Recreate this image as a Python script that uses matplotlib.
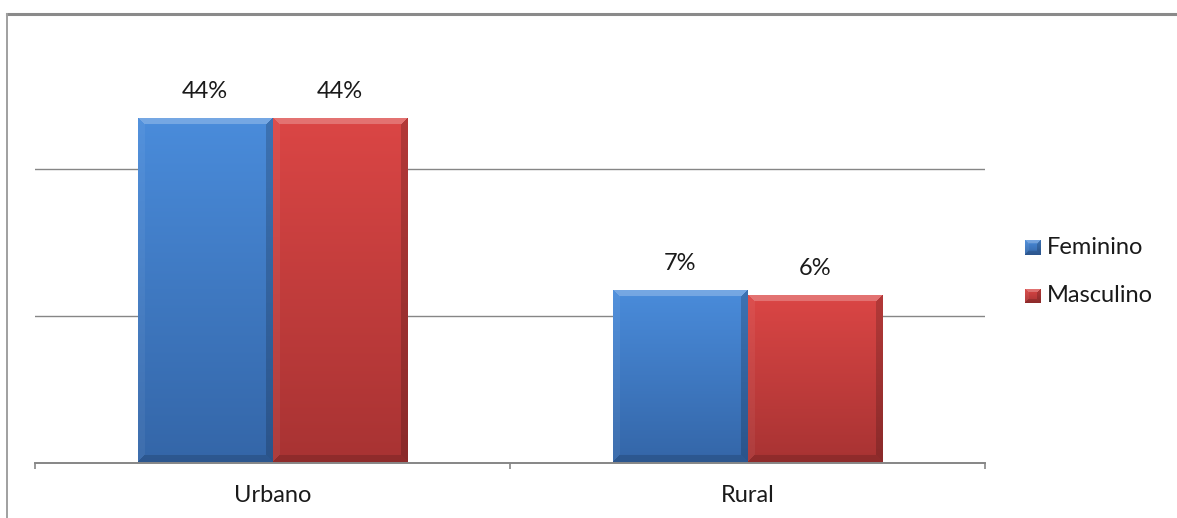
import numpy as np
import matplotlib
matplotlib.use("Agg")
import matplotlib.pyplot as plt
from matplotlib.lines import Line2D

# ---- data -------------------------------------------------------------
categories = ["Urbano", "Rural"]
series_names = ["Feminino", "Masculino"]
feminino = [44, 7]
masculino = [44, 6]

# value axis (labels hidden): floor, ceiling and gridline spacing
AXIS_FLOOR = -30.0
AXIS_TOP = 64.7
GRID_STEP = 31.55

# ---- style ------------------------------------------------------------
FONT = ["Lato", "DejaVu Sans"]
plt.rcParams["font.family"] = FONT
FS = 17
TEXT_COLOR = "#1a1a1a"
GRAY = "#868686"
SERIES_COLORS = {
    "Feminino": ("#4A8CDB", "#3466A8"),
    "Masculino": ("#DB4645", "#A83333"),
}

W, H, DPI = 1177, 518, 100
fig = plt.figure(figsize=(W / DPI, H / DPI), dpi=DPI)
fig.patch.set_facecolor("white")

ax_left, ax_right, ax_bottom, ax_top = 35, 985, 462.5, 22
ax = fig.add_axes([ax_left / W, (H - ax_bottom) / H,
                   (ax_right - ax_left) / W, (ax_bottom - ax_top) / H])
ax.set_xlim(-0.5, len(categories) - 0.5)
ax.set_ylim(AXIS_FLOOR, AXIS_TOP)


def bevel_image(w_px, h_px, top_rgb, bottom_rgb, band=7):
    """Vertical gradient with a bevelled rim (light top, dark right/bottom)."""
    top_rgb = np.array(matplotlib.colors.to_rgb(top_rgb))
    bottom_rgb = np.array(matplotlib.colors.to_rgb(bottom_rgb))
    t = np.linspace(0, 1, h_px)[:, None, None]
    base = top_rgb * (1 - t) + bottom_rgb * t
    img = np.repeat(base, w_px, axis=1)
    ii, jj = np.mgrid[0:h_px, 0:w_px]
    d = np.stack([ii, h_px - 1 - ii, jj, w_px - 1 - jj])
    nearest = d.argmin(axis=0)
    inband = d.min(axis=0) < band
    shade = np.array([0.24, -0.15, 0.05, -0.18])
    s = np.where(inband, shade[nearest], 0.0)[..., None]
    img = np.where(s > 0, img + (1 - img) * s, img * (1 + s))
    return np.clip(img, 0, 1)


x = np.arange(len(categories))
width = 0.284
offsets = [-width / 2, width / 2]
series_values = [feminino, masculino]

# gridlines and baseline
for gy in [AXIS_FLOOR + GRID_STEP, AXIS_FLOOR + 2 * GRID_STEP]:
    ax.axhline(gy, color=GRAY, lw=1.0, zorder=1)
ax.axhline(AXIS_FLOOR, color=GRAY, lw=1.4, zorder=5, clip_on=False)

fig.canvas.draw()
for name, vals, off in zip(series_names, series_values, offsets):
    top_c, bot_c = SERIES_COLORS[name]
    bars = ax.bar(x + off, np.array(vals) - AXIS_FLOOR, width=width,
                  bottom=AXIS_FLOOR, color=top_c, edgecolor="#a8a8a8",
                  linewidth=0.6, zorder=3)
    for rect, v in zip(bars, vals):
        x0, y0 = rect.get_x(), rect.get_y()
        x1, y1 = x0 + rect.get_width(), y0 + rect.get_height()
        (px0, py0), (px1, py1) = ax.transData.transform([(x0, y0), (x1, y1)])
        img = bevel_image(max(int(round(px1 - px0)), 2),
                          max(int(round(py1 - py0)), 2), top_c, bot_c)
        im = ax.imshow(img, extent=(x0, x1, y0, y1), aspect="auto",
                       interpolation="bilinear", zorder=4)
        im.set_clip_path(rect)
        ax.annotate(f"{v}%", (rect.get_x() + rect.get_width() / 2, y1),
                    xytext=(0, 27 * 72 / DPI), textcoords="offset points",
                    ha="center", va="center", fontsize=FS, color=TEXT_COLOR)

ax.set_xlim(-0.5, len(categories) - 0.5)
ax.set_ylim(AXIS_FLOOR, AXIS_TOP)

# axes decoration
for sp in ax.spines.values():
    sp.set_visible(False)
ax.set_yticks([])
ax.set_xticks(x)
ax.set_xticklabels(categories, fontsize=FS, color=TEXT_COLOR)
ax.tick_params(axis="x", which="major", length=0, pad=16)
ax.set_xticks([-0.5, 0.5, 1.5], minor=True)
ax.tick_params(axis="x", which="minor", length=4.5, width=1.2,
               color=GRAY, direction="out")

# legend
legend_y = [248, 296]
for name, ly in zip(series_names, legend_y):
    top_c, bot_c = SERIES_COLORS[name]
    sq_w, sq_h = 16, 15
    sx0 = 1025
    lax = fig.add_axes([sx0 / W, (H - ly - sq_h / 2) / H, sq_w / W, sq_h / H])
    lax.imshow(bevel_image(sq_w, sq_h, top_c, bot_c, band=4), aspect="auto",
               interpolation="bilinear")
    lax.axis("off")
    fig.text(1047 / W, (H - ly) / H, name, fontsize=FS, color=TEXT_COLOR,
             ha="left", va="center")

# outer chart frame
fig.add_artist(Line2D([7 / W, 1.0], [(H - 14) / H] * 2, color="#8a8a8a",
                      lw=2.2, transform=fig.transFigure))
fig.add_artist(Line2D([7 / W] * 2, [0, (H - 14) / H], color="#a0a0a0",
                      lw=1.4, transform=fig.transFigure))

fig.savefig("out.png", dpi=DPI)
